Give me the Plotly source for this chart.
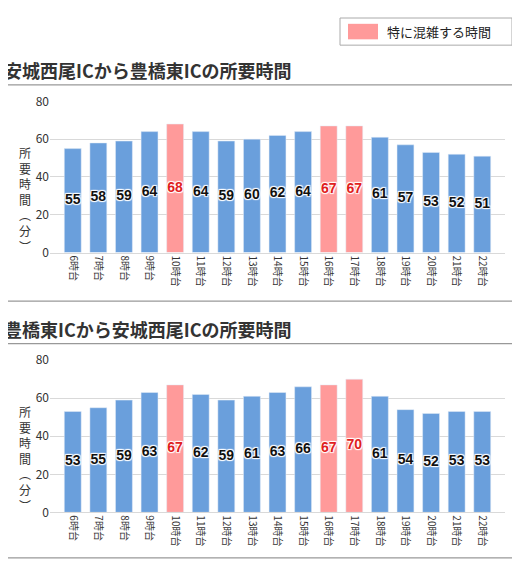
import plotly.graph_objects as go
from plotly.subplots import make_subplots

hours = ["6時台", "7時台", "8時台", "9時台", "10時台", "11時台", "12時台", "13時台", "14時台",
         "15時台", "16時台", "17時台", "18時台", "19時台", "20時台", "21時台", "22時台"]
west_to_east = [55, 58, 59, 64, 68, 64, 59, 60, 62, 64, 67, 67, 61, 57, 53, 52, 51]
east_to_west = [53, 55, 59, 63, 67, 62, 59, 61, 63, 66, 67, 70, 61, 54, 52, 53, 53]
peak_hours = ["10時台", "16時台", "17時台"]

BLUE = "#6a9fdc"
PINK = "#ff9a9a"
FONT = "Noto Sans CJK JP"

# page has an 8px body margin, so the figure is sized to fit the window
W, H, OFF = 504.0, 554.0, 8.0
def py(px):
    return 1 - (px - OFF) / H
def px_(x):
    return (x - OFF) / W

fig = make_subplots(rows=2, cols=1)

for row, vals in [(1, west_to_east), (2, east_to_west)]:
    colors = [PINK if h in peak_hours else BLUE for h in hours]
    tcolors = ["#e02020" if h in peak_hours else "#111" for h in hours]
    fig.add_trace(go.Bar(x=hours, y=vals, marker_color=colors, width=0.66,
                         hoverinfo="skip"), row=row, col=1)
    fig.add_trace(go.Scatter(x=hours, y=[v / 2 for v in vals], mode="text",
                             text=["<b>%d</b>" % v for v in vals],
                             textfont=dict(size=14, color=tcolors, family="Arial, " + FONT,
                                           shadow="1px 1px 1px white, -1px -1px 1px white, 1px -1px 1px white, -1px 1px 1px white"),
                             hoverinfo="skip"), row=row, col=1)

axis_y = dict(range=[0, 80], dtick=20, gridcolor="#d9d9d9", zeroline=False,
              tickfont=dict(size=12, color="#333"), ticks="", fixedrange=True)
axis_x = dict(tickangle=90, tickfont=dict(size=10, color="#333"), showline=True,
              linecolor="#d9d9d9", ticks="")
fig.update_layout(
    xaxis=dict(domain=[px_(50), px_(505)], anchor="y", **axis_x),
    xaxis2=dict(domain=[px_(50), px_(505)], anchor="y2", **axis_x),
    yaxis=dict(domain=[py(250), py(94)], **axis_y),
    yaxis2=dict(domain=[py(518), py(361)], **axis_y),
    width=W, height=H, margin=dict(l=0, r=0, t=0, b=0),
    plot_bgcolor="white", paper_bgcolor="white", showlegend=False,
    bargap=0.35, font=dict(family=FONT),
)

shapes = [
    dict(type="rect", xref="paper", yref="paper", x0=px_(2), x1=px_(517),
         y0=py(300), y1=py(77), line=dict(color="#999", width=1.2)),
    dict(type="rect", xref="paper", yref="paper", x0=px_(2), x1=px_(517),
         y0=py(565), y1=py(344), line=dict(color="#999", width=1.2)),
    dict(type="rect", xref="paper", yref="paper", x0=px_(340), x1=px_(512),
         y0=py(36), y1=py(8), line=dict(color="#aaa", width=1), fillcolor="white"),
    dict(type="rect", xref="paper", yref="paper", x0=px_(348), x1=px_(378),
         y0=py(30), y1=py(14), line=dict(width=0), fillcolor=PINK),
]
annotations = [
    dict(text="特に混雑する時間", x=px_(385), y=py(22), xref="paper", yref="paper",
         xanchor="left", yanchor="middle", showarrow=False, font=dict(size=13, color="#222")),
    dict(text="<b>安城西尾ICから豊橋東ICの所要時間</b>", x=px_(2), y=py(62), xref="paper",
         yref="paper", xanchor="left", yanchor="middle", showarrow=False,
         font=dict(size=18, color="#333")),
    dict(text="<b>豊橋東ICから安城西尾ICの所要時間</b>", x=px_(2), y=py(329), xref="paper",
         yref="paper", xanchor="left", yanchor="middle", showarrow=False,
         font=dict(size=18, color="#333")),
]
for ycen in [195, 462]:
    annotations.append(dict(text="所<br>要<br>時<br>間<br>︵<br>分<br>︶", x=px_(17), y=py(ycen),
                            xref="paper", yref="paper", yanchor="middle", showarrow=False,
                            font=dict(size=12, color="#333")))
fig.update_layout(shapes=shapes, annotations=annotations)

fig.write_html("out.html")
